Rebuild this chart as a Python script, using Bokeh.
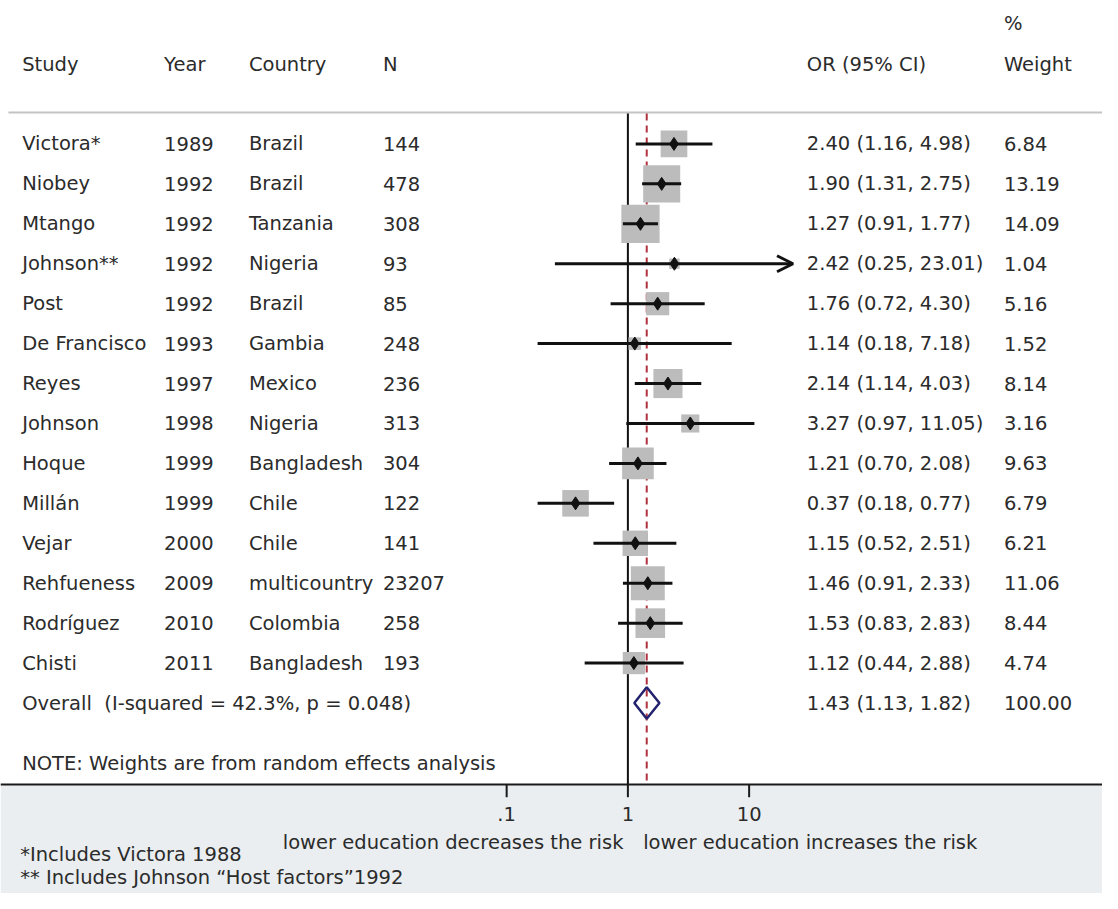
import numpy as np
from bokeh.plotting import figure
from bokeh.models import Range1d, LinearScale, ColumnDataSource, Arrow, OpenHead
from bokeh.core.properties import value
from bokeh.embed import file_html
from bokeh.resources import INLINE

# ---------------- data ----------------
studies = ["Victora*", "Niobey", "Mtango", "Johnson**", "Post", "De Francisco", "Reyes",
           "Johnson", "Hoque", "Millán", "Vejar", "Rehfueness", "Rodríguez", "Chisti"]
years = ["1989", "1992", "1992", "1992", "1992", "1993", "1997", "1998", "1999", "1999",
         "2000", "2009", "2010", "2011"]
countries = ["Brazil", "Brazil", "Tanzania", "Nigeria", "Brazil", "Gambia", "Mexico",
             "Nigeria", "Bangladesh", "Chile", "Chile", "multicountry", "Colombia", "Bangladesh"]
n_sizes = ["144", "478", "308", "93", "85", "248", "236", "313", "304", "122", "141",
           "23207", "258", "193"]
or_est = [2.40, 1.90, 1.27, 2.42, 1.76, 1.14, 2.14, 3.27, 1.21, 0.37, 1.15, 1.46, 1.53, 1.12]
ci_low = [1.16, 1.31, 0.91, 0.25, 0.72, 0.18, 1.14, 0.97, 0.70, 0.18, 0.52, 0.91, 0.83, 0.44]
ci_high = [4.98, 2.75, 1.77, 23.01, 4.30, 7.18, 4.03, 11.05, 2.08, 0.77, 2.51, 2.33, 2.83, 2.88]
weights = [6.84, 13.19, 14.09, 1.04, 5.16, 1.52, 8.14, 3.16, 9.63, 6.79, 6.21, 11.06, 8.44, 4.74]

overall_label = "Overall\u00a0 (I-squared = 42.3%, p = 0.048)"
overall_est, overall_low, overall_high, overall_weight = 1.43, 1.13, 1.82, 100.00

x_ticks = [0.1, 1, 10]
x_tick_labels = [".1", "1", "10"]
clip_max = 20  # CIs beyond this get an arrow

# ---------------- layout constants (reference-page pixels, 1118x909) ----------------
W, H = 1102, 893
PW, PH = 1118, 909
FONT = "DejaVu Sans"
FS = "19.5px"
TXT = "#2b2b2b"
ROW0, ROWH = 146.0, 40.65     # page-y of first row, row height
X1, DEC = 636.5, 123.0        # page-x of OR=1, pixels per decade

def row_of(page_y):
    return (page_y - ROW0) / ROWH

p = figure(width=W, height=H, output_backend="svg", toolbar_location=None,
           x_axis_type="log",
           x_range=Range1d(10 ** ((0 - X1) / DEC), 10 ** ((PW - X1) / DEC)),
           y_range=Range1d(row_of(PH), row_of(0)),
           x_axis_location=None, y_axis_location=None, min_border=0)
p.outline_line_color = None
p.grid.visible = False
p.background_fill_color = "white"
p.border_fill_color = "white"
p.extra_x_ranges = {"px": Range1d(0, PW)}
p.extra_x_scales = {"px": LinearScale()}
p.extra_y_ranges = {"py": Range1d(PH, 0)}
p.extra_y_scales = {"py": LinearScale()}

n = len(studies)
rows = list(range(n))
overall_row = n

# bottom grey panel
p.quad(left=0, right=PW, top=798, bottom=PH, x_range_name="px", y_range_name="py",
       fill_color="#eaeef0", line_color=None)
# header separator & axis line
p.segment(x0=8, x1=PW, y0=114, y1=114, x_range_name="px", y_range_name="py",
          line_color="#c4c4c4", line_width=2)
p.segment(x0=0, x1=PW, y0=798, y1=798, x_range_name="px", y_range_name="py",
          line_color="#1a1a1a", line_width=2)

# null line and overall line
p.segment(x0=1, x1=1, y0=115, y1=798, y_range_name="py", line_color="#111111", line_width=2)
p.segment(x0=overall_est, x1=overall_est, y0=115, y1=798, y_range_name="py",
          line_color="#b0323f", line_width=2, line_dash="7 5")

# weight boxes
src = ColumnDataSource(dict(y=rows, est=or_est, lo=ci_low, hi=ci_high,
                            size=[10.2 * np.sqrt(w) for w in weights]))
p.scatter(x="est", y="y", size="size", marker="square", source=src,
          fill_color="#bcbcbc", line_color=None)

# CI lines
norm = [i for i in rows if ci_high[i] <= clip_max]
clipped = [i for i in rows if ci_high[i] > clip_max]
p.segment(x0=[ci_low[i] for i in norm], x1=[ci_high[i] for i in norm],
          y0=[rows[i] for i in norm], y1=[rows[i] for i in norm],
          line_color="#111111", line_width=3)
for i in clipped:
    p.add_layout(Arrow(end=OpenHead(size=16, line_width=3, line_color="#111111"),
                       x_start=ci_low[i], x_end=ci_high[i], y_start=rows[i], y_end=rows[i],
                       line_color="#111111", line_width=3))
# point estimates
p.scatter(x="est", y="y", size=13, marker="diamond", source=src,
          fill_color="#111111", line_color="#111111")

# overall diamond
h = 16 / ROWH
p.patch(x=[overall_low, overall_est, overall_high, overall_est],
        y=[overall_row, overall_row - h, overall_row, overall_row + h],
        fill_color=None, line_color="#22226e", line_width=2.5)

# x axis ticks and labels
p.segment(x0=x_ticks, x1=x_ticks, y0=[798] * 3, y1=[811] * 3, y_range_name="py",
          line_color="#1a1a1a", line_width=2)
p.text(x=x_ticks, y=[828] * 3, text=x_tick_labels, y_range_name="py",
       text_align="center", text_baseline="middle", text_font=value(FONT),
       text_font_size=FS, text_color=TXT)

def txt(x, y, t, align="left", yr="default", xr="px"):
    p.text(x=x, y=y, text=t, x_range_name=xr, y_range_name=yr, text_align=align,
           text_baseline="middle", text_font=value(FONT), text_font_size=FS, text_color=TXT)

# header
txt([22, 166, 252, 388, 818, 1018], [65] * 6,
    ["Study", "Year", "Country", "N", "OR (95% CI)", "Weight"], yr="py")
txt([1018], [23], ["%"], yr="py")

# table columns
txt([22] * n, rows, studies)
txt([166] * n, rows, years)
txt([252] * n, rows, countries)
txt([388] * n, rows, n_sizes)
or_text = ["%.2f (%.2f, %.2f)" % (e, l, u) for e, l, u in zip(or_est, ci_low, ci_high)]
txt([818] * n, rows, or_text)
txt([1018] * n, rows, ["%.2f" % w for w in weights])

# overall row
txt([22], [overall_row], [overall_label])
txt([818], [overall_row], ["%.2f (%.2f, %.2f)" % (overall_est, overall_low, overall_high)])
txt([1018], [overall_row], ["%.2f" % overall_weight])

# notes and axis titles
txt([22], [777], ["NOTE: Weights are from random effects analysis"], yr="py")
txt([632], [857], ["lower education decreases the risk"], align="right", yr="py")
txt([652], [857], ["lower education increases the risk"], yr="py")
txt([20], [869], ["*Includes Victora 1988"], yr="py")
txt([20], [893], ["** Includes Johnson \u201cHost factors\u201d1992"], yr="py")

open("out.html", "w").write(file_html(p, INLINE))
